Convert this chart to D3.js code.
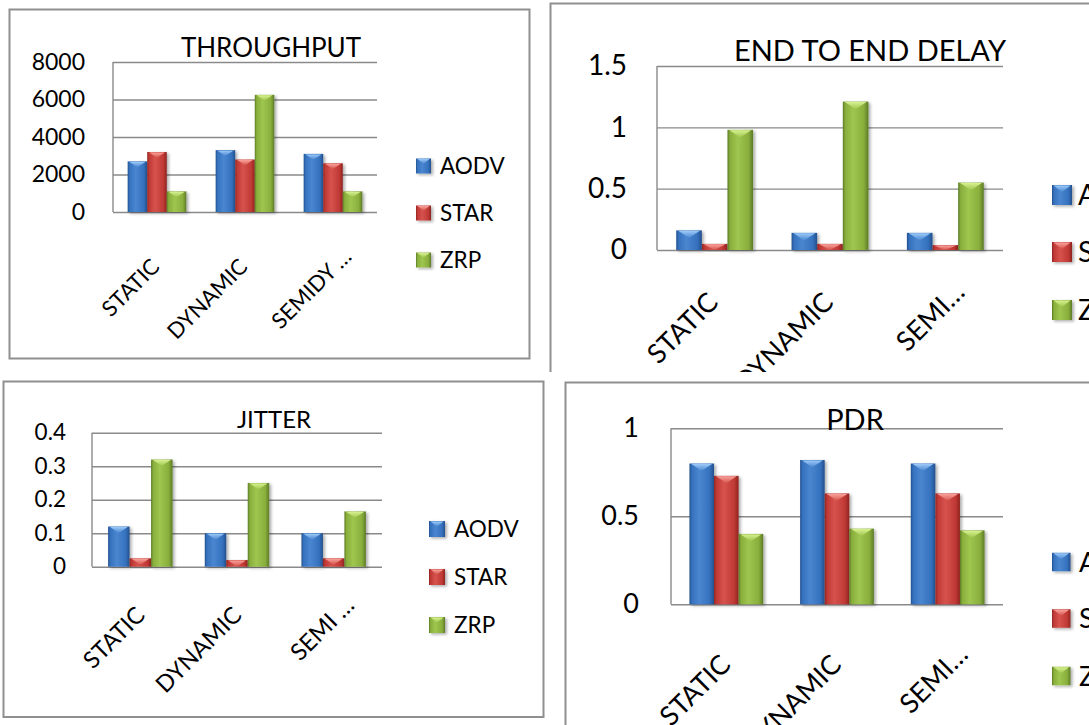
<!DOCTYPE html>
<html>
<head>
<meta charset="utf-8">
<script src="https://cdn.jsdelivr.net/npm/d3@7"></script>
<style>
  html, body { margin: 0; padding: 0; background: #fff; }
  svg { display: block; font-family: Lato, "Open Sans", sans-serif; }
</style>
</head>
<body>
<svg id="chart" width="1089" height="725"></svg>
<script>
// ---- data ----
const protocols = ["AODV", "STAR", "ZRP"];
const scenarios = ["STATIC", "DYNAMIC", "SEMIDYNAMIC"];

const throughputLabels = ["STATIC", "DYNAMIC", "SEMIDY …"];
const delayLabels = ["STATIC", "DYNAMIC", "SEMI…"];
const jitterLabels = ["STATIC", "DYNAMIC", "SEMI …"];
const pdrLabels = ["STATIC", "DYNAMIC", "SEMI…"];

const throughputAODV = [2700, 3300, 3100];
const throughputSTAR = [3200, 2800, 2600];
const throughputZRP  = [1100, 6250, 1100];
const throughputTicks = [0, 2000, 4000, 6000, 8000];

const delayAODV = [0.16, 0.14, 0.14];
const delaySTAR = [0.05, 0.05, 0.04];
const delayZRP  = [0.98, 1.21, 0.55];
const delayTicks = [0, 0.5, 1, 1.5];

const jitterAODV = [0.12, 0.10, 0.10];
const jitterSTAR = [0.025, 0.02, 0.025];
const jitterZRP  = [0.32, 0.25, 0.165];
const jitterTicks = [0, 0.1, 0.2, 0.3, 0.4];

const pdrAODV = [0.80, 0.82, 0.80];
const pdrSTAR = [0.73, 0.63, 0.63];
const pdrZRP  = [0.40, 0.43, 0.42];
const pdrTicks = [0, 0.5, 1];

// ---- styling ----
const palette = {
  AODV: { dark: "#24508c", mid: "#3571be", light: "#4a86d0", top: "#9ccaf8" },
  STAR: { dark: "#8f2320", mid: "#c03935", light: "#d6534d", top: "#f8a29b" },
  ZRP:  { dark: "#5c7b26", mid: "#89ae3c", light: "#9fc64f", top: "#d6f08e" }
};
const gridColor = "#8a8a8a";
const frameColor = "#8f8f8f";

const svg = d3.select("#chart");
const defs = svg.append("defs");

protocols.forEach(p => {
  const c = palette[p];
  const g = defs.append("linearGradient").attr("id", "bar-" + p)
    .attr("x1", 0).attr("x2", 1).attr("y1", 0).attr("y2", 0);
  [[0, c.dark], [0.1, c.mid], [0.4, c.light], [0.82, c.mid], [1, c.dark]]
    .forEach(([o, col]) => g.append("stop").attr("offset", o).attr("stop-color", col));
  const t = defs.append("linearGradient").attr("id", "cap-" + p)
    .attr("x1", 0).attr("x2", 0).attr("y1", 0).attr("y2", 1);
  t.append("stop").attr("offset", 0).attr("stop-color", c.top);
  t.append("stop").attr("offset", 1).attr("stop-color", c.light);
});

const shadow = defs.append("filter").attr("id", "shadow")
  .attr("x", "-30%").attr("y", "-10%").attr("width", "170%").attr("height", "130%");
shadow.append("feDropShadow").attr("dx", 2).attr("dy", 1.5)
  .attr("stdDeviation", 1.6).attr("flood-color", "#000").attr("flood-opacity", 0.32);

// ---- panel layouts ----
const panels = [
  {
    key: "throughput", title: "THROUGHPUT", labels: throughputLabels,
    series: [throughputAODV, throughputSTAR, throughputZRP], ticks: throughputTicks,
    frame: { x: 9.5, y: 9.5, w: 520, h: 349 },
    plot: { l: 113, r: 377, t: 62, b: 212 },
    tickRight: 85, tickFs: 23,
    title_: { x: 271, y: 57, fs: 26 },
    legend: { x: 416, size: 15, ys: [166, 213, 260], textX: 440, fs: 22.5 },
    xlab: { dx: 4, dy: 56, fs: 22 },
    clip: null
  },
  {
    key: "delay", title: "END TO END DELAY", labels: delayLabels,
    series: [delayAODV, delaySTAR, delayZRP], ticks: delayTicks,
    frame: { x: 550.5, y: 3.5, w: 700, h: 500 },
    plot: { l: 657, r: 1003, t: 66, b: 250 },
    tickRight: 627, tickFs: 28,
    title_: { x: 870, y: 61, fs: 29 },
    legend: { x: 1052, size: 20, ys: [195, 252, 310], textX: 1078, fs: 28 },
    xlab: { dx: 5, dy: 54, fs: 27 },
    clip: { x: 549, y: 0, w: 540, h: 372 }
  },
  {
    key: "jitter", title: "JITTER", labels: jitterLabels,
    series: [jitterAODV, jitterSTAR, jitterZRP], ticks: jitterTicks,
    frame: { x: 3.5, y: 381.5, w: 540, h: 335.5 },
    plot: { l: 92, r: 382, t: 432.7, b: 566.7 },
    tickRight: 66, tickFs: 22.5,
    title_: { x: 274, y: 428, fs: 24 },
    legend: { x: 429, size: 16, ys: [529, 577, 625], textX: 454, fs: 22.5 },
    xlab: { dx: 6, dy: 50, fs: 23.5 },
    clip: null
  },
  {
    key: "pdr", title: "PDR", labels: pdrLabels,
    series: [pdrAODV, pdrSTAR, pdrZRP], ticks: pdrTicks,
    frame: { x: 565.5, y: 382.5, w: 600, h: 400 },
    plot: { l: 671, r: 1003, t: 428.3, b: 604.3 },
    tickRight: 639, tickFs: 27,
    title_: { x: 855, y: 430, fs: 29 },
    legend: { x: 1052, size: 18.5, ys: [562, 618.5, 676], textX: 1079, fs: 27 },
    xlab: { dx: 6, dy: 62, fs: 27 },
    clip: null
  }
];

function drawPanel(cfg) {
  let root = svg.append("g").attr("class", "panel panel-" + cfg.key);
  if (cfg.clip) {
    defs.append("clipPath").attr("id", "clip-" + cfg.key)
      .append("rect").attr("x", cfg.clip.x).attr("y", cfg.clip.y)
      .attr("width", cfg.clip.w).attr("height", cfg.clip.h);
    root.attr("clip-path", `url(#clip-${cfg.key})`);
  }

  // chart frame
  root.append("rect")
    .attr("x", cfg.frame.x).attr("y", cfg.frame.y)
    .attr("width", cfg.frame.w).attr("height", cfg.frame.h)
    .attr("fill", "#fff").attr("stroke", frameColor).attr("stroke-width", 2);

  const p = cfg.plot;
  const y = d3.scaleLinear().domain([0, d3.max(cfg.ticks)]).range([p.b, p.t]);
  const x0 = d3.scaleBand().domain(scenarios).range([p.l, p.r])
    .paddingInner(1 / 3).paddingOuter(1 / 6);
  const x1 = d3.scaleBand().domain(protocols).range([0, x0.bandwidth()]);

  // horizontal gridlines
  const grid = root.append("g").attr("transform", `translate(${p.l},0)`)
    .call(d3.axisLeft(y).tickValues(cfg.ticks).tickSize(-(p.r - p.l)).tickFormat(""));
  grid.select(".domain").remove();
  grid.selectAll("line").attr("stroke", gridColor).attr("stroke-width", 1.4);

  // bars with a bevelled top
  const rows = [];
  scenarios.forEach((s, i) => protocols.forEach((pr, j) => rows.push({ s, pr, v: cfg.series[j][i] })));
  const bars = root.append("g").selectAll("g").data(rows).join("g")
    .attr("filter", "url(#shadow)");
  bars.append("rect")
    .attr("x", d => x0(d.s) + x1(d.pr))
    .attr("y", d => y(d.v))
    .attr("width", x1.bandwidth())
    .attr("height", d => y(0) - y(d.v))
    .attr("fill", d => `url(#bar-${d.pr})`);
  bars.append("path")
    .attr("d", d => {
      const bx = x0(d.s) + x1(d.pr), bw = x1.bandwidth();
      const top = y(d.v), h = Math.min(bw * 0.3, y(0) - top);
      return `M${bx + 2},${top + 0.5}L${bx + bw - 2},${top + 0.5}L${bx + bw / 2},${top + h}Z`;
    })
    .attr("fill", d => `url(#cap-${d.pr})`);

  // value axis line and tick labels
  root.append("line").attr("x1", p.l).attr("x2", p.l).attr("y1", p.t).attr("y2", p.b)
    .attr("stroke", gridColor).attr("stroke-width", 1.4);
  const yAxis = root.append("g").attr("transform", `translate(${p.l},0)`)
    .call(d3.axisLeft(y).tickValues(cfg.ticks).tickSize(0)
      .tickPadding(p.l - cfg.tickRight).tickFormat(d => String(d)));
  yAxis.select(".domain").remove();
  yAxis.selectAll("text").attr("font-size", cfg.tickFs).attr("fill", "#000")
    .attr("font-family", "Lato, 'Open Sans', sans-serif");

  // category labels, rotated; shortened labels sit a little further along
  const xAxis = root.append("g").attr("transform", `translate(0,${p.b})`)
    .call(d3.axisBottom(x0).tickSize(0).tickFormat((d, i) => cfg.labels[i]));
  xAxis.select(".domain").remove();
  xAxis.selectAll("text")
    .attr("y", 0).attr("dy", 0)
    .attr("text-anchor", "end")
    .attr("transform", (d, i) => {
      const shift = cfg.labels[i].endsWith("…") ? 1 : 0;
      return `translate(${cfg.xlab.dx + 16 * shift},${cfg.xlab.dy - 10 * shift}) rotate(-45)`;
    })
    .attr("font-size", cfg.xlab.fs).attr("fill", "#000")
    .attr("font-family", "Lato, 'Open Sans', sans-serif");

  // title
  root.append("text").attr("x", cfg.title_.x).attr("y", cfg.title_.y)
    .attr("text-anchor", "middle").attr("font-size", cfg.title_.fs)
    .attr("fill", "#000").text(cfg.title);

  // legend
  const lg = root.append("g").selectAll("g").data(protocols).join("g")
    .attr("transform", (d, i) => `translate(${cfg.legend.x},${cfg.legend.ys[i]})`);
  const sz = cfg.legend.size;
  lg.append("rect").attr("x", 0).attr("y", -sz / 2).attr("width", sz).attr("height", sz)
    .attr("fill", d => `url(#bar-${d})`).attr("filter", "url(#shadow)");
  lg.append("path")
    .attr("d", `M1.5,${-sz / 2 + 0.5}L${sz - 1.5},${-sz / 2 + 0.5}L${sz / 2},${-sz / 2 + sz * 0.35}Z`)
    .attr("fill", d => `url(#cap-${d})`);
  lg.append("text").attr("x", cfg.legend.textX - cfg.legend.x).attr("y", 0).attr("dy", "0.36em")
    .attr("font-size", cfg.legend.fs).attr("fill", "#000").text(d => d);
}

panels.forEach(drawPanel);
</script>
</body>
</html>
